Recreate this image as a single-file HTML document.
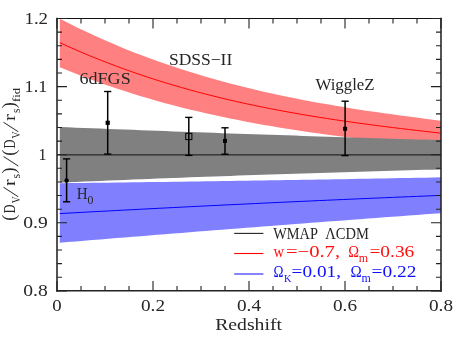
<!DOCTYPE html>
<html><head><meta charset="utf-8"><title>BAO distance-redshift</title>
<style>html,body{margin:0;padding:0;background:#fff}svg{display:block}text{font-family:"Liberation Serif",serif;fill:#262626;font-variant-ligatures:none}</style>
</head><body>
<svg width="458" height="340" viewBox="0 0 458 340">
<rect width="458" height="340" fill="#fff"/>
<defs><clipPath id="c"><rect x="57" y="18.5" width="384" height="272.4"/></clipPath></defs>
<g clip-path="url(#c)">
<polygon points="59.8,18.69 67.9,22.85 76.0,26.88 84.1,30.79 92.2,34.58 100.4,38.26 108.5,41.83 116.6,45.29 124.7,48.64 132.8,51.88 140.9,55.03 149.0,58.07 157.1,61.01 165.2,63.86 173.3,66.61 181.5,69.28 189.6,71.85 197.7,74.34 205.8,76.74 213.9,79.07 222.0,81.31 230.1,83.48 238.2,85.57 246.3,87.59 254.5,89.54 262.6,91.43 270.7,93.25 278.8,95.00 286.9,96.70 295.0,98.34 303.1,99.92 311.2,101.45 319.3,102.93 327.5,104.36 335.6,105.75 343.7,107.09 351.8,108.39 359.9,109.65 368.0,110.88 376.1,112.07 384.2,113.23 392.3,114.36 400.4,115.46 408.6,116.54 416.7,117.60 424.8,118.64 432.9,119.66 441.0,120.66 441.0,147.54 432.9,146.72 424.8,145.89 416.7,145.05 408.6,144.20 400.4,143.34 392.3,142.46 384.2,141.57 376.1,140.65 368.0,139.72 359.9,138.76 351.8,137.77 343.7,136.76 335.6,135.72 327.5,134.64 319.3,133.53 311.2,132.39 303.1,131.20 295.0,129.98 286.9,128.71 278.8,127.40 270.7,126.04 262.6,124.63 254.5,123.17 246.3,121.66 238.2,120.09 230.1,118.46 222.0,116.78 213.9,115.03 205.8,113.22 197.7,111.34 189.6,109.40 181.5,107.38 173.3,105.29 165.2,103.13 157.1,100.89 149.0,98.57 140.9,96.17 132.8,93.68 124.7,91.11 116.6,88.46 108.5,85.71 100.4,82.88 92.2,79.94 84.1,76.92 76.0,73.79 67.9,70.57 59.8,67.24" fill="#ff8080"/>
<polyline points="59.8,42.67 67.9,46.36 76.0,49.93 84.1,53.41 92.2,56.77 100.4,60.03 108.5,63.20 116.6,66.26 124.7,69.23 132.8,72.11 140.9,74.89 149.0,77.58 157.1,80.19 165.2,82.71 173.3,85.15 181.5,87.51 189.6,89.79 197.7,91.99 205.8,94.12 213.9,96.17 222.0,98.16 230.1,100.08 238.2,101.93 246.3,103.72 254.5,105.44 262.6,107.11 270.7,108.72 278.8,110.28 286.9,111.78 295.0,113.23 303.1,114.64 311.2,116.00 319.3,117.31 327.5,118.58 335.6,119.81 343.7,121.01 351.8,122.16 359.9,123.29 368.0,124.38 376.1,125.45 384.2,126.49 392.3,127.50 400.4,128.49 408.6,129.46 416.7,130.41 424.8,131.35 432.9,132.27 441.0,133.18" fill="none" stroke="#ff0000" stroke-width="1"/>
<polygon points="59.8,127.00 67.9,127.33 76.0,127.66 84.1,127.98 92.2,128.30 100.4,128.62 108.5,128.93 116.6,129.25 124.7,129.56 132.8,129.87 140.9,130.18 149.0,130.48 157.1,130.79 165.2,131.09 173.3,131.39 181.5,131.69 189.6,131.98 197.7,132.27 205.8,132.56 213.9,132.85 222.0,133.14 230.1,133.42 238.2,133.71 246.3,133.99 254.5,134.26 262.6,134.54 270.7,134.81 278.8,135.09 286.9,135.35 295.0,135.62 303.1,135.89 311.2,136.15 319.3,136.41 327.5,136.67 335.6,136.93 343.7,137.18 351.8,137.43 359.9,137.68 368.0,137.93 376.1,138.18 384.2,138.42 392.3,138.66 400.4,138.90 408.6,139.14 416.7,139.38 424.8,139.61 432.9,139.84 441.0,140.07 441.0,169.44 432.9,169.64 424.8,169.86 416.7,170.07 408.6,170.29 400.4,170.51 392.3,170.73 384.2,170.96 376.1,171.19 368.0,171.42 359.9,171.66 351.8,171.90 343.7,172.14 335.6,172.39 327.5,172.64 319.3,172.89 311.2,173.15 303.1,173.41 295.0,173.67 286.9,173.94 278.8,174.20 270.7,174.48 262.6,174.75 254.5,175.03 246.3,175.31 238.2,175.59 230.1,175.88 222.0,176.17 213.9,176.47 205.8,176.76 197.7,177.06 189.6,177.37 181.5,177.67 173.3,177.98 165.2,178.30 157.1,178.61 149.0,178.93 140.9,179.26 132.8,179.58 124.7,179.91 116.6,180.24 108.5,180.58 100.4,180.92 92.2,181.26 84.1,181.60 76.0,181.95 67.9,182.30 59.8,182.65" fill="#808080"/>
<polygon points="59.8,183.20 67.9,183.11 76.0,183.02 84.1,182.92 92.2,182.83 100.4,182.73 108.5,182.63 116.6,182.53 124.7,182.43 132.8,182.33 140.9,182.22 149.0,182.12 157.1,182.01 165.2,181.90 173.3,181.79 181.5,181.68 189.6,181.57 197.7,181.45 205.8,181.34 213.9,181.22 222.0,181.10 230.1,180.98 238.2,180.86 246.3,180.73 254.5,180.61 262.6,180.48 270.7,180.35 278.8,180.23 286.9,180.09 295.0,179.96 303.1,179.83 311.2,179.69 319.3,179.56 327.5,179.42 335.6,179.28 343.7,179.14 351.8,178.99 359.9,178.85 368.0,178.70 376.1,178.56 384.2,178.41 392.3,178.26 400.4,178.11 408.6,177.95 416.7,177.80 424.8,177.64 432.9,177.49 441.0,177.33 441.0,213.19 432.9,213.78 424.8,214.37 416.7,214.96 408.6,215.56 400.4,216.16 392.3,216.76 384.2,217.36 376.1,217.96 368.0,218.56 359.9,219.17 351.8,219.78 343.7,220.38 335.6,220.99 327.5,221.61 319.3,222.22 311.2,222.84 303.1,223.45 295.0,224.07 286.9,224.69 278.8,225.31 270.7,225.94 262.6,226.56 254.5,227.19 246.3,227.82 238.2,228.45 230.1,229.08 222.0,229.71 213.9,230.35 205.8,230.98 197.7,231.62 189.6,232.26 181.5,232.90 173.3,233.55 165.2,234.19 157.1,234.84 149.0,235.49 140.9,236.14 132.8,236.79 124.7,237.44 116.6,238.10 108.5,238.75 100.4,239.41 92.2,240.07 84.1,240.73 76.0,241.39 67.9,242.06 59.8,242.72" fill="#8080ff"/>
<polyline points="59.8,213.58 67.9,213.13 76.0,212.69 84.1,212.25 92.2,211.81 100.4,211.37 108.5,210.94 116.6,210.51 124.7,210.08 132.8,209.65 140.9,209.23 149.0,208.81 157.1,208.39 165.2,207.97 173.3,207.56 181.5,207.15 189.6,206.74 197.7,206.33 205.8,205.93 213.9,205.53 222.0,205.13 230.1,204.74 238.2,204.35 246.3,203.96 254.5,203.57 262.6,203.19 270.7,202.81 278.8,202.43 286.9,202.05 295.0,201.68 303.1,201.31 311.2,200.94 319.3,200.57 327.5,200.21 335.6,199.85 343.7,199.49 351.8,199.13 359.9,198.78 368.0,198.43 376.1,198.08 384.2,197.74 392.3,197.40 400.4,197.06 408.6,196.72 416.7,196.39 424.8,196.06 432.9,195.73 441.0,195.40" fill="none" stroke="#0000ff" stroke-width="1"/>
<line x1="57" y1="154.9" x2="441" y2="154.9" stroke="#111" stroke-width="1"/>
</g>
<g stroke="#000" fill="none"><line x1="66.6" y1="158.9" x2="66.6" y2="201.8" stroke-width="1.5"/><line x1="62.99999999999999" y1="158.9" x2="70.19999999999999" y2="158.9" stroke-width="1.4"/><line x1="62.99999999999999" y1="201.8" x2="70.19999999999999" y2="201.8" stroke-width="1.4"/></g><circle cx="66.6" cy="180.5" r="2.2" fill="#000"/>
<g stroke="#000" fill="none"><line x1="107.7" y1="91.5" x2="107.7" y2="154.1" stroke-width="1.5"/><line x1="104.10000000000001" y1="91.5" x2="111.3" y2="91.5" stroke-width="1.4"/><line x1="104.10000000000001" y1="154.1" x2="111.3" y2="154.1" stroke-width="1.4"/></g><rect x="105.60000000000001" y="120.7" width="4.2" height="4.2" fill="#000"/>
<g stroke="#000" fill="none"><line x1="188.8" y1="117.4" x2="188.8" y2="155.4" stroke-width="1.5"/><line x1="185.20000000000002" y1="117.4" x2="192.4" y2="117.4" stroke-width="1.4"/><line x1="185.20000000000002" y1="155.4" x2="192.4" y2="155.4" stroke-width="1.4"/></g><rect x="185.70000000000002" y="133.4" width="6.2" height="6.2" fill="none" stroke="#000" stroke-width="1"/>
<g stroke="#000" fill="none"><line x1="225.0" y1="127.8" x2="225.0" y2="154.2" stroke-width="1.5"/><line x1="221.4" y1="127.8" x2="228.6" y2="127.8" stroke-width="1.4"/><line x1="221.4" y1="154.2" x2="228.6" y2="154.2" stroke-width="1.4"/></g><rect x="223.0" y="138.9" width="4.0" height="4.0" fill="#000"/>
<g stroke="#000" fill="none"><line x1="345.1" y1="101.2" x2="345.1" y2="155.6" stroke-width="1.5"/><line x1="341.5" y1="101.2" x2="348.70000000000005" y2="101.2" stroke-width="1.4"/><line x1="341.5" y1="155.6" x2="348.70000000000005" y2="155.6" stroke-width="1.4"/></g><rect x="343.1" y="126.80000000000001" width="4.0" height="4.0" fill="#000"/>
<g stroke="#222" fill="none" stroke-linecap="square"><line x1="57" y1="18.5" x2="441" y2="18.5" stroke="#111" stroke-width="1.15"/><line x1="57" y1="290.85" x2="441" y2="290.85" stroke-width="1.5"/><line x1="57" y1="18.5" x2="57" y2="290.85" stroke-width="1.55"/><line x1="441" y1="18.5" x2="441" y2="290.85" stroke-width="1.55"/></g>
<path d="M57 290.9v-10M57 18.5v10M81 290.9v-5M81 18.5v5M105 290.9v-5M105 18.5v5M129 290.9v-5M129 18.5v5M153 290.9v-10M153 18.5v10M177 290.9v-5M177 18.5v5M201 290.9v-5M201 18.5v5M225 290.9v-5M225 18.5v5M249 290.9v-10M249 18.5v10M273 290.9v-5M273 18.5v5M297 290.9v-5M297 18.5v5M321 290.9v-5M321 18.5v5M345 290.9v-10M345 18.5v10M369 290.9v-5M369 18.5v5M393 290.9v-5M393 18.5v5M417 290.9v-5M417 18.5v5M441 290.9v-10M441 18.5v10M57.0 290.90h10M441.0 290.90h-10M57.0 277.28h5M441.0 277.28h-5M57.0 263.66h5M441.0 263.66h-5M57.0 250.04h5M441.0 250.04h-5M57.0 236.42h5M441.0 236.42h-5M57.0 222.80h10M441.0 222.80h-10M57.0 209.18h5M441.0 209.18h-5M57.0 195.56h5M441.0 195.56h-5M57.0 181.94h5M441.0 181.94h-5M57.0 168.32h5M441.0 168.32h-5M57.0 154.70h10M441.0 154.70h-10M57.0 141.08h5M441.0 141.08h-5M57.0 127.46h5M441.0 127.46h-5M57.0 113.84h5M441.0 113.84h-5M57.0 100.22h5M441.0 100.22h-5M57.0 86.60h10M441.0 86.60h-10M57.0 72.98h5M441.0 72.98h-5M57.0 59.36h5M441.0 59.36h-5M57.0 45.74h5M441.0 45.74h-5M57.0 32.12h5M441.0 32.12h-5M57.0 18.50h10M441.0 18.50h-10" stroke="#222" stroke-width="1.1" fill="none"/>
<text x="52.3" y="310.9" font-size="16" textLength="9.4" lengthAdjust="spacingAndGlyphs">0</text>
<text x="141.0" y="310.9" font-size="16" textLength="24" lengthAdjust="spacingAndGlyphs">0.2</text>
<text x="237.0" y="310.9" font-size="16" textLength="24" lengthAdjust="spacingAndGlyphs">0.4</text>
<text x="333.0" y="310.9" font-size="16" textLength="24" lengthAdjust="spacingAndGlyphs">0.6</text>
<text x="429.0" y="310.9" font-size="16" textLength="24" lengthAdjust="spacingAndGlyphs">0.8</text>
<text x="24.45" y="23.7" font-size="16" textLength="23.6" lengthAdjust="spacingAndGlyphs">1.2</text>
<text x="24.6" y="91.8" font-size="16" textLength="22.6" lengthAdjust="spacingAndGlyphs">1.1</text>
<text x="46.6" y="159.9" font-size="16" text-anchor="end">1</text>
<text x="23.3" y="228.0" font-size="16" textLength="24.5" lengthAdjust="spacingAndGlyphs">0.9</text>
<text x="23.3" y="296.1" font-size="16" textLength="24.5" lengthAdjust="spacingAndGlyphs">0.8</text>
<text x="215.2" y="330" font-size="16.5" textLength="66.8" lengthAdjust="spacingAndGlyphs">Redshift</text>
<text x="79.5" y="83.8" font-size="16.5" textLength="51.2" lengthAdjust="spacingAndGlyphs">6dFGS</text>
<text x="168.9" y="64.7" font-size="16.5" textLength="63.4" lengthAdjust="spacingAndGlyphs">SDSS−II</text>
<text x="315.5" y="90.0" font-size="16.5" textLength="59.1" lengthAdjust="spacingAndGlyphs">WiggleZ</text>
<text x="76.7" y="198.8" font-size="16.5" textLength="10.9" lengthAdjust="spacingAndGlyphs">H</text>
<text x="87.5" y="203.8" font-size="11.5" textLength="5.9" lengthAdjust="spacingAndGlyphs">0</text>
<line x1="234.2" y1="233.4" x2="263.4" y2="233.4" stroke="#222" stroke-width="1.1"/>
<line x1="234.2" y1="253.5" x2="263.4" y2="253.5" stroke="#ff0000" stroke-width="1.1"/>
<line x1="234.2" y1="274.0" x2="263.4" y2="274.0" stroke="#2020ff" stroke-width="1.1"/>
<text x="273.3" y="238.6" font-size="16.5" textLength="44.6" lengthAdjust="spacingAndGlyphs">WMAP</text>
<text x="325.3" y="238.6" font-size="16.5" textLength="43.6" lengthAdjust="spacingAndGlyphs">ΛCDM</text>
<text x="273.6" y="256.5" font-size="16.5" textLength="10.6" lengthAdjust="spacingAndGlyphs" style="fill:#ff1010">w</text>
<text x="285.9" y="256.5" font-size="16.5" textLength="54.2" lengthAdjust="spacingAndGlyphs" style="fill:#ff1010">=−0.7,</text>
<text x="348.2" y="256.5" font-size="17.3" textLength="10.8" lengthAdjust="spacingAndGlyphs" style="fill:#ff1010">Ω</text>
<text x="358.8" y="261.6" font-size="11.5" textLength="9.3" lengthAdjust="spacingAndGlyphs" style="fill:#ff1010">m</text>
<text x="369.4" y="256.5" font-size="16.5" textLength="44.9" lengthAdjust="spacingAndGlyphs" style="fill:#ff1010">=0.36</text>
<text x="273.6" y="277.2" font-size="17.3" textLength="10.0" lengthAdjust="spacingAndGlyphs" style="fill:#1010ff">Ω</text>
<text x="283.9" y="281.8" font-size="11" textLength="7.4" lengthAdjust="spacingAndGlyphs" style="fill:#1010ff">K</text>
<text x="291.6" y="277.2" font-size="16.5" textLength="49.4" lengthAdjust="spacingAndGlyphs" style="fill:#1010ff">=0.01,</text>
<text x="350.4" y="277.2" font-size="17.3" textLength="11.2" lengthAdjust="spacingAndGlyphs" style="fill:#1010ff">Ω</text>
<text x="361.6" y="281.7" font-size="11.5" textLength="9.3" lengthAdjust="spacingAndGlyphs" style="fill:#1010ff">m</text>
<text x="371.6" y="277.2" font-size="16.5" textLength="44.9" lengthAdjust="spacingAndGlyphs" style="fill:#1010ff">=0.22</text>
<g transform="translate(15.3,220.6) rotate(-90)">
<text x="-0.2" y="-0.8" font-size="18">(</text>
<text x="7.4" y="0" font-size="16.5" textLength="8.8" lengthAdjust="spacingAndGlyphs">D</text>
<text x="17.3" y="4.4" font-size="11.5" textLength="6.9" lengthAdjust="spacingAndGlyphs">V</text>
<text transform="translate(23.3,2.2) skewX(-17)" font-size="22">/</text>
<text x="34.6" y="0" font-size="16.5" textLength="6.7" lengthAdjust="spacingAndGlyphs">r</text>
<text x="42" y="4.4" font-size="11.5" textLength="4.6" lengthAdjust="spacingAndGlyphs">s</text>
<text x="47.199999999999996" y="-0.8" font-size="18">)</text>
<text transform="translate(54.099999999999994,2.2) skewX(-17)" font-size="22">/</text>
<text x="64.8" y="-0.8" font-size="18">(</text>
<text x="72.1" y="0" font-size="16.5" textLength="8.9" lengthAdjust="spacingAndGlyphs">D</text>
<text x="82" y="4.4" font-size="11.5" textLength="7.2" lengthAdjust="spacingAndGlyphs">V</text>
<text transform="translate(88.39999999999999,2.2) skewX(-17)" font-size="22">/</text>
<text x="99.6" y="0" font-size="16.5" textLength="6.9" lengthAdjust="spacingAndGlyphs">r</text>
<text x="107.6" y="4.4" font-size="11.5" textLength="4.5" lengthAdjust="spacingAndGlyphs">s</text>
<text x="112.39999999999999" y="-0.8" font-size="18">)</text>
<text x="118.6" y="4.6" font-size="11.3" textLength="13.9" lengthAdjust="spacingAndGlyphs">fid</text>
</g>
</svg></body></html>
